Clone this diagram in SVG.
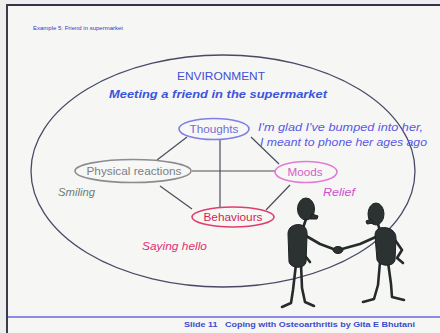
<svg xmlns="http://www.w3.org/2000/svg" width="440" height="333" viewBox="0 0 440 333">
  <style>
    .node ellipse { fill: #f7f7f6; stroke-width: 1.6; }
    .lbl { font-family: "Liberation Sans", Arial, sans-serif; font-size: 11px; text-anchor: middle; }
    .note { font-family: "Liberation Sans", Arial, sans-serif; font-size: 11px; font-style: italic; }
    .conn line { stroke: #4a4d5a; stroke-width: 1.2; }
    .fig { fill: #2c3131; stroke: #1e2222; }
    .limb { fill: none; stroke: #252a2a; stroke-width: 2.6; stroke-linecap: round; stroke-linejoin: round; }
  </style>

  <!-- slide background and frame -->
  <rect x="0" y="0" width="440" height="333" fill="#eeeeee"/>
  <rect x="7" y="5" width="433" height="328" fill="#f6f6f5"/>
  <line x1="6" y1="5" x2="440" y2="5" stroke="#33334a" stroke-width="2"/>
  <line x1="7" y1="4" x2="7" y2="333" stroke="#3a3a48" stroke-width="2"/>
  <line x1="8" y1="317" x2="440" y2="317" stroke="#8c8ce6" stroke-width="2"/>

  <text x="33" y="30" font-family="Liberation Sans, Arial, sans-serif" font-size="4.8" fill="#3040c0" textLength="90" lengthAdjust="spacingAndGlyphs">Example 5: Friend in supermarket</text>
  <text x="184" y="327" font-family="Liberation Sans, Arial, sans-serif" font-size="7.4" font-weight="bold" fill="#3c4ad0" xml:space="preserve" textLength="231" lengthAdjust="spacingAndGlyphs">Slide 11   Coping with Osteoarthritis by Gita E Bhutani</text>

  <!-- environment boundary -->
  <g id="environment">
    <ellipse cx="223" cy="171" rx="192" ry="116" fill="none" stroke="#4a4a66" stroke-width="1.3"/>
    <text class="lbl" x="221" y="80" fill="#4050d0" textLength="88" lengthAdjust="spacingAndGlyphs">ENVIRONMENT</text>
    <text class="note" x="218" y="98" text-anchor="middle" font-weight="bold" fill="#3a55dc" textLength="218" lengthAdjust="spacingAndGlyphs">Meeting a friend in the supermarket</text>
  </g>

  <!-- connectors -->
  <g id="connectors" class="conn">
    <line x1="187" y1="137" x2="157" y2="160"/>
    <line x1="220" y1="140" x2="220" y2="208"/>
    <line x1="251" y1="137" x2="279" y2="164"/>
    <line x1="192" y1="171" x2="275" y2="171"/>
    <line x1="160" y1="186" x2="192" y2="209"/>
    <line x1="290" y1="185" x2="266" y2="210"/>
  </g>

  <g id="thoughts" class="node">
    <ellipse cx="214" cy="129" rx="35" ry="10.5" stroke="#7f7fe8"/>
    <text class="lbl" x="214" y="133" fill="#6f6fd6" textLength="49" lengthAdjust="spacingAndGlyphs">Thoughts</text>
  </g>
  <text class="note" x="258" y="131" fill="#5858e6" textLength="165" lengthAdjust="spacingAndGlyphs">I'm glad I've bumped into her,</text>
  <text class="note" x="260" y="146" fill="#5858e6" textLength="167" lengthAdjust="spacingAndGlyphs">I meant to phone her ages ago</text>

  <g id="physical" class="node">
    <ellipse cx="133" cy="171" rx="58" ry="11.5" stroke="#8a8c90"/>
    <text class="lbl" x="134" y="175" fill="#7c7f82" textLength="95" lengthAdjust="spacingAndGlyphs">Physical reactions</text>
  </g>
  <text class="note" x="58" y="196" fill="#6e7c74" textLength="37" lengthAdjust="spacingAndGlyphs">Smiling</text>

  <g id="moods" class="node">
    <ellipse cx="306" cy="172" rx="31" ry="10.5" stroke="#e07cd6"/>
    <text class="lbl" x="305" y="176" fill="#d460c6" textLength="35" lengthAdjust="spacingAndGlyphs">Moods</text>
  </g>
  <text class="note" x="323" y="196" fill="#d24cd0" textLength="32" lengthAdjust="spacingAndGlyphs">Relief</text>

  <g id="behaviours" class="node">
    <ellipse cx="233" cy="217" rx="41" ry="10" stroke="#e23c6c"/>
    <text class="lbl" x="233" y="221" fill="#d41e52" textLength="59" lengthAdjust="spacingAndGlyphs">Behaviours</text>
  </g>
  <text class="note" x="142" y="250" fill="#e0306e" textLength="65" lengthAdjust="spacingAndGlyphs">Saying hello</text>

  <!-- two figures shaking hands -->
  <g id="figure-left">
    <path class="limb" d="M296 264 L293 290 L291 303 L282 307"/>
    <path class="limb" d="M301 264 L302 288 L305 302 L314 306"/>
    <path class="limb" d="M301 233 L320 244 L336 250"/>
    <path class="limb" d="M296 236 L302 252 L310 262"/>
    <path class="limb" d="M306 219 L303 228"/>
    <path class="fig" d="M295 225 C303 223 308 228 307 236 L306 262 C305 269 291 269 289 262 L288 234 C288 229 291 226 295 225 Z"/>
    <ellipse class="fig" cx="306" cy="209" rx="8.5" ry="11"/>
    <path class="fig" d="M312 214 L318 216 L317 219 L310 219 Z"/>
    <ellipse class="fig" cx="338" cy="250" rx="5" ry="3.5"/>
  </g>
  <g id="figure-right">
    <path class="limb" d="M380 262 L378 285 L374 299 L363 302"/>
    <path class="limb" d="M388 262 L391 284 L392 297 L404 300"/>
    <path class="limb" d="M378 236 L360 244 L342 249"/>
    <path class="limb" d="M393 237 L402 250 L397 258 L403 263"/>
    <path class="limb" d="M378 224 L380 231"/>
    <path class="fig" d="M380 228 C389 226 396 231 396 238 L395 260 C394 267 380 267 377 260 L375 236 C375 231 377 229 380 228 Z"/>
    <ellipse class="fig" cx="376" cy="214" rx="8" ry="11"/>
    <path class="fig" d="M371 219 L366 221 L367 224 L374 223 Z"/>
  </g>
</svg>
